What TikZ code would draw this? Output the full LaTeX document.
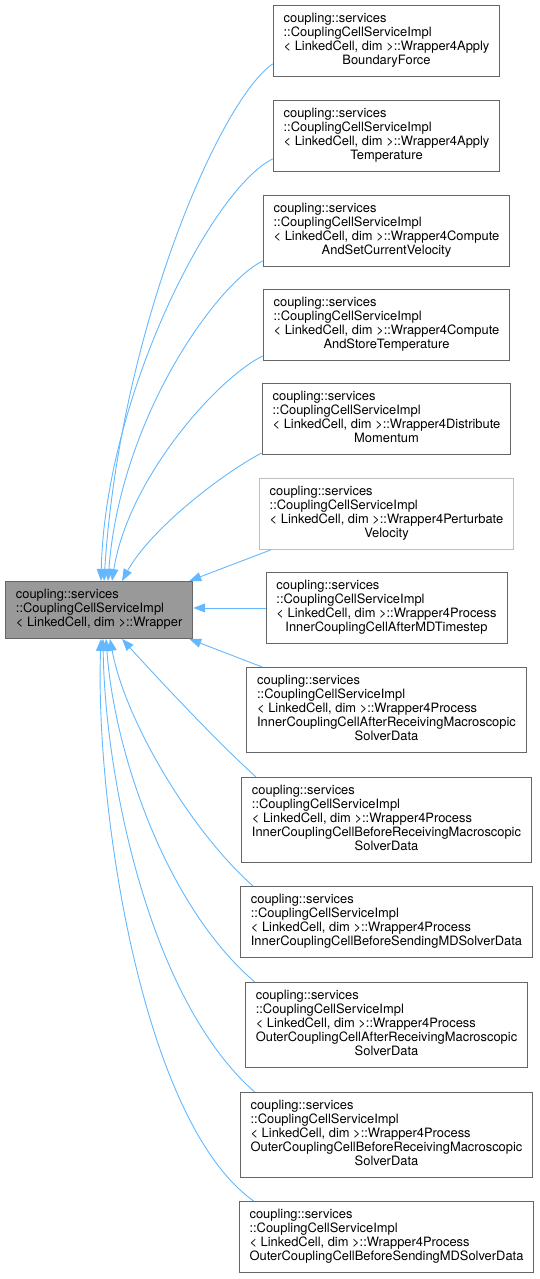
\documentclass[tikz,border=0pt]{standalone}
\usepackage{fontspec}
\setmainfont{TeX Gyre Heros}
\usetikzlibrary{arrows.meta,calc}
\definecolor{edgeblue}{HTML}{63B8FF}
\definecolor{bordergray}{HTML}{666666}
\definecolor{lightborder}{HTML}{BFBFBF}
\definecolor{fillgray}{HTML}{999999}
\newcommand{\clstext}[2]{\begin{tabular}{@{}l@{}}#1\\\multicolumn{1}{@{}c@{}}{#2}\end{tabular}}
\newcommand{\pre}{coupling::services\\::CouplingCellServiceImpl\\< LinkedCell, dim >::Wrapper4}
\begin{document}
\begin{tikzpicture}[x=1pt,y=-1pt,
  every node/.style={font=\fontsize{12.9}{14}\selectfont},
  cbox/.style={draw=bordergray, line width=0.9pt, fill=white, inner xsep=10.5pt, inner ysep=7.5pt, anchor=north},
  lbox/.style={cbox, draw=lightborder},
  wbox/.style={draw=bordergray, line width=0.9pt, fill=fillgray, inner xsep=10.5pt, inner ysep=7.5pt, anchor=north west},
  inh/.style={draw=edgeblue, line width=0.9pt, -{Triangle[length=12pt,width=9pt]}}]
\useasboundingbox (0,0) rectangle (539,1279);

\node[wbox] (W) at (5,581) {\clstext{coupling::services\\::CouplingCellServiceImpl}{< LinkedCell, dim >::Wrapper}};

\node[cbox] (b1) at (386.5,5) {\clstext{\pre Apply}{BoundaryForce}};
\node[cbox] (b2) at (386.5,100) {\clstext{\pre Apply}{Temperature}};
\node[cbox] (b3) at (386.5,195) {\clstext{\pre Compute}{AndSetCurrentVelocity}};
\node[cbox] (b4) at (386.5,289) {\clstext{\pre Compute}{AndStoreTemperature}};
\node[cbox] (b5) at (386.5,383) {\clstext{\pre Distribute}{Momentum}};
\node[lbox] (b6) at (386.5,478) {\clstext{\pre Perturbate}{Velocity}};
\node[cbox] (b7) at (386.5,572) {\clstext{\pre Process}{InnerCouplingCellAfterMDTimestep}};
\node[cbox] (b8) at (386.5,667) {\clstext{\pre Process\\InnerCouplingCellAfterReceivingMacroscopic}{SolverData}};
\node[cbox] (b9) at (386.5,777) {\clstext{\pre Process\\InnerCouplingCellBeforeReceivingMacroscopic}{SolverData}};
\node[cbox] (b10) at (386.5,886) {\clstext{\pre Process}{InnerCouplingCellBeforeSendingMDSolverData}};
\node[cbox] (b11) at (386.5,982) {\clstext{\pre Process\\OuterCouplingCellAfterReceivingMacroscopic}{SolverData}};
\node[cbox] (b12) at (386.5,1092) {\clstext{\pre Process\\OuterCouplingCellBeforeReceivingMacroscopic}{SolverData}};
\node[cbox] (b13) at (386.5,1201) {\clstext{\pre Process}{OuterCouplingCellBeforeSendingMDSolverData}};

% upper edges
\draw[inh] ($(b1.south west)+(0,-13)$) .. controls (220,100) and (120,330) .. ($(W.north west)+(99,0)$);
\draw[inh] ($(b2.south west)+(0,-13)$) .. controls (210,190) and (105,400) .. ($(W.north west)+(96,0)$);
\draw[inh] ($(b3.south west)+(0,-6)$) .. controls (215,285) and (120,420) .. ($(W.north west)+(103,0)$);
\draw[inh] ($(b4.south west)+(0,-5)$) .. controls (215,380) and (128,480) .. ($(W.north west)+(107,0)$);
\draw[inh] ($(b5.south west)+(0,-2)$) .. controls (220,475) and (150,530) .. ($(W.north west)+(117,0)$);
\draw[inh] ($(b6.south west)+(12,0)$) -- ($(W.north east)+(-4,0)$);
\draw[inh] (b7.west) -- (b7.west -| W.east);
\draw[inh] ($(b8.north west)+(16,0)$) -- ($(W.south east)+(-4,0)$);
% lower edges
\draw[inh] ($(b9.north west)+(15,0)$) .. controls (215,740) and (150,670) .. ($(W.south west)+(117,0)$);
\draw[inh] ($(b10.north west)+(13,0)$) .. controls (190,830) and (125,720) .. ($(W.south west)+(105,0)$);
\draw[inh] ($(b11.north west)+(10,0)$) .. controls (170,910) and (115,760) .. ($(W.south west)+(101,0)$);
\draw[inh] ($(b12.north west)+(15,0)$) .. controls (150,1000) and (105,780) .. ($(W.south west)+(98,0)$);
\draw[inh] ($(b13.north west)+(15,0)$) .. controls (140,1120) and (95,800) .. ($(W.south west)+(96,0)$);
\end{tikzpicture}
\end{document}
